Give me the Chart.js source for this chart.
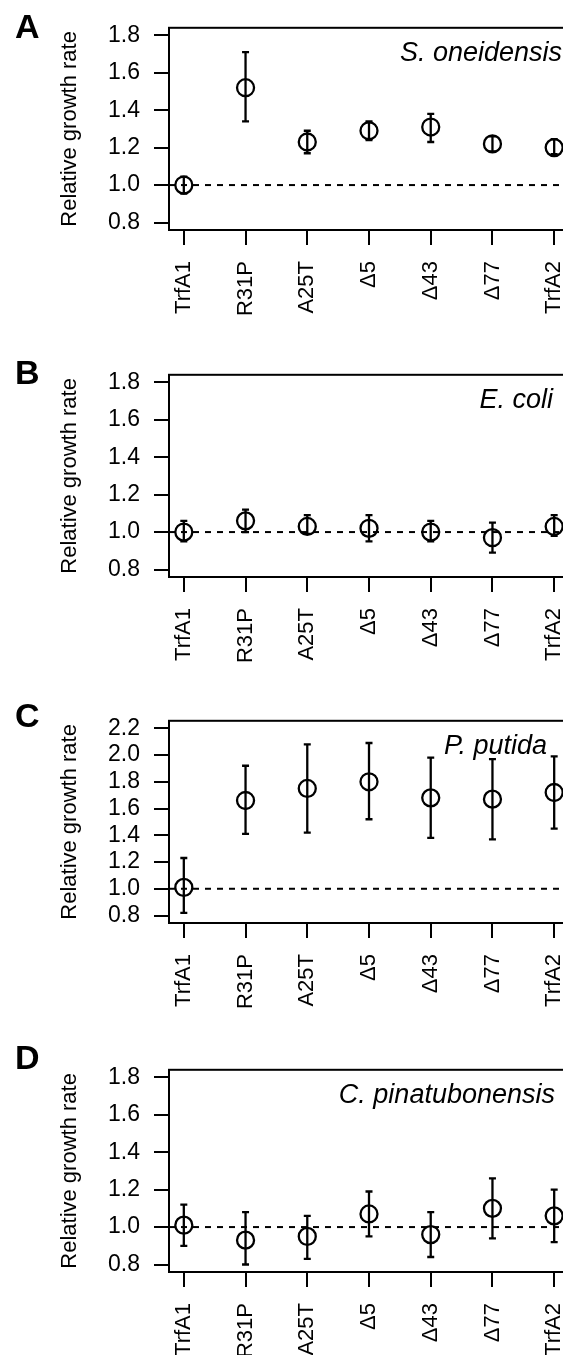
<!DOCTYPE html>
<html>
<head>
<meta charset="utf-8">
<title>Relative growth rate</title>
<script src="https://cdn.jsdelivr.net/npm/chart.js@4.4.1/dist/chart.umd.min.js"></script>
<style>
  html, body { margin: 0; padding: 0; background: #fff; overflow: hidden; }
  #wrap { position: relative; width: 563px; height: 1355px; overflow: hidden; }
  .panel { position: absolute; left: 0; width: 600px; height: 347px; }
</style>
</head>
<body>
<div id="wrap">
  <div class="panel" style="top:0px"><canvas id="chartA" width="600" height="347"></canvas></div>
  <div class="panel" style="top:347px"><canvas id="chartB" width="600" height="347"></canvas></div>
  <div class="panel" style="top:693px"><canvas id="chartC" width="600" height="347"></canvas></div>
  <div class="panel" style="top:1042px"><canvas id="chartD" width="600" height="347"></canvas></div>
</div>
<script>
// strains on the x axis
const strains = ['TrfA1', 'R31P', 'A25T', 'Δ5', 'Δ43', 'Δ77', 'TrfA2'];

// A - S. oneidensis
const oneidensisMean = [1.00, 1.52, 1.23, 1.29, 1.31, 1.22, 1.20];
const oneidensisLow  = [0.955, 1.34, 1.17, 1.24, 1.23, 1.18, 1.165];
const oneidensisHigh = [1.045, 1.71, 1.29, 1.34, 1.38, 1.26, 1.245];

// B - E. coli
const coliMean = [1.00, 1.06, 1.03, 1.02, 1.00, 0.97, 1.03];
const coliLow  = [0.95, 1.00, 0.99, 0.95, 0.95, 0.89, 0.98];
const coliHigh = [1.06, 1.12, 1.09, 1.09, 1.06, 1.05, 1.09];

// C - P. putida
const putidaMean = [1.01, 1.66, 1.75, 1.80, 1.68, 1.67, 1.72];
const putidaLow  = [0.82, 1.41, 1.42, 1.52, 1.38, 1.37, 1.45];
const putidaHigh = [1.23, 1.92, 2.08, 2.09, 1.98, 1.97, 1.99];

// D - C. pinatubonensis
const pinatuMean = [1.01, 0.93, 0.95, 1.07, 0.96, 1.10, 1.06];
const pinatuLow  = [0.90, 0.80, 0.83, 0.95, 0.84, 0.94, 0.92];
const pinatuHigh = [1.12, 1.08, 1.06, 1.19, 1.08, 1.26, 1.20];

// y tick labels
const ticksShort = [0.8, 1.0, 1.2, 1.4, 1.6, 1.8];
const ticksTall  = [0.8, 1.0, 1.2, 1.4, 1.6, 1.8, 2.0, 2.2];

const FONT = "'Liberation Sans', Arial, Helvetica, sans-serif";

// error bars drawn through the chart scales
const errorBars = {
  id: 'errorBars',
  afterDatasetsDraw(chart, args, opts) {
    const { ctx, chartArea: a, scales: { x, y } } = chart;
    ctx.save();
    ctx.beginPath();
    ctx.rect(a.left, a.top, a.right - a.left, a.bottom - a.top);
    ctx.clip();
    ctx.strokeStyle = '#000';
    ctx.lineWidth = 2.3;
    opts.low.forEach((lo, i) => {
      const px = x.getPixelForValue(i + 1);
      const p1 = y.getPixelForValue(lo);
      const p2 = y.getPixelForValue(opts.high[i]);
      ctx.beginPath();
      ctx.moveTo(px, p1); ctx.lineTo(px, p2);
      ctx.moveTo(px - 3.5, p1); ctx.lineTo(px + 3.5, p1);
      ctx.moveTo(px - 3.5, p2); ctx.lineTo(px + 3.5, p2);
      ctx.stroke();
    });
    ctx.restore();
  }
};

// box round the plot, species name and panel letter
const frame = {
  id: 'frame',
  afterDraw(chart, args, opts) {
    const { ctx, chartArea: a } = chart;
    ctx.save();
    ctx.strokeStyle = '#000';
    ctx.lineWidth = 2;
    ctx.strokeRect(a.left, a.top, a.right - a.left, a.bottom - a.top);
    ctx.fillStyle = '#000';
    ctx.font = 'italic 27px ' + FONT;
    ctx.textAlign = 'right';
    ctx.textBaseline = 'alphabetic';
    ctx.fillText(opts.species, opts.speciesX, a.top + 33);
    ctx.font = 'bold 34px ' + FONT;
    ctx.textAlign = 'left';
    ctx.fillText(opts.letter, 15, opts.letterY);
    ctx.restore();
  }
};

function makePanel(id, letter, letterY, species, speciesX, mean, low, high, yTicks) {
  const span = yTicks[yTicks.length - 1] - yTicks[0];
  const yMin = yTicks[0] - span * 0.04;
  const yMax = yTicks[yTicks.length - 1] + span * 0.04;
  const xMin = 1 - (strains.length - 1) * 0.04;
  const xMax = strains.length + (strains.length - 1) * 0.04;

  new Chart(document.getElementById(id), {
    type: 'scatter',
    data: {
      datasets: [
        {
          type: 'line',
          data: [{ x: xMin, y: 1 }, { x: xMax, y: 1 }],
          borderColor: '#000', borderWidth: 2, borderDash: [6, 6],
          pointRadius: 0, fill: false,
        },
        {
          data: mean.map((v, i) => ({ x: i + 1, y: v })),
          pointStyle: 'circle', pointRadius: 8.5, pointBorderWidth: 2.3,
          pointBorderColor: '#000', pointBackgroundColor: 'rgba(0,0,0,0)',
          showLine: false,
        },
      ],
    },
    options: {
      responsive: false,
      animation: false,
      devicePixelRatio: 1,
      layout: { padding: { top: 9, right: 31, bottom: 0, left: 0 } },
      plugins: {
        legend: { display: false },
        tooltip: { enabled: false },
        errorBars: { low, high },
        frame: { letter, letterY, species, speciesX },
      },
      scales: {
        x: {
          type: 'linear', min: xMin, max: xMax,
          afterBuildTicks: s => { s.ticks = strains.map((_, i) => ({ value: i + 1 })); },
          afterFit: s => { s.height = 117; },
          grid: { drawOnChartArea: false, color: '#000', lineWidth: 2, tickLength: 15 },
          border: { color: '#000', width: 2 },
          ticks: {
            autoSkip: false, minRotation: 90, maxRotation: 90, padding: 16,
            color: '#000', font: { size: 22, family: FONT },
            callback: (v, i) => strains[i],
          },
        },
        y: {
          type: 'linear', min: yMin, max: yMax,
          afterBuildTicks: s => { s.ticks = yTicks.map(v => ({ value: v })); },
          afterFit: s => { s.width = 169; },
          grid: { drawOnChartArea: false, color: '#000', lineWidth: 2, tickLength: 15 },
          border: { color: '#000', width: 2 },
          ticks: {
            autoSkip: false, padding: 14, color: '#000', font: { size: 23, family: FONT },
            callback: v => Number(v).toFixed(1),
          },
          title: {
            display: true, text: 'Relative growth rate', color: '#000',
            font: { size: 22, family: FONT }, padding: { top: 57, bottom: 0 },
          },
        },
      },
    },
    plugins: [errorBars, frame],
  });
}

makePanel('chartA', 'A', 38, 'S. oneidensis', 562, oneidensisMean, oneidensisLow, oneidensisHigh, ticksShort);
makePanel('chartB', 'B', 37, 'E. coli', 553, coliMean, coliLow, coliHigh, ticksShort);
makePanel('chartC', 'C', 34, 'P. putida', 547, putidaMean, putidaLow, putidaHigh, ticksTall);
makePanel('chartD', 'D', 27, 'C. pinatubonensis', 555, pinatuMean, pinatuLow, pinatuHigh, ticksShort);
</script>
</body>
</html>
